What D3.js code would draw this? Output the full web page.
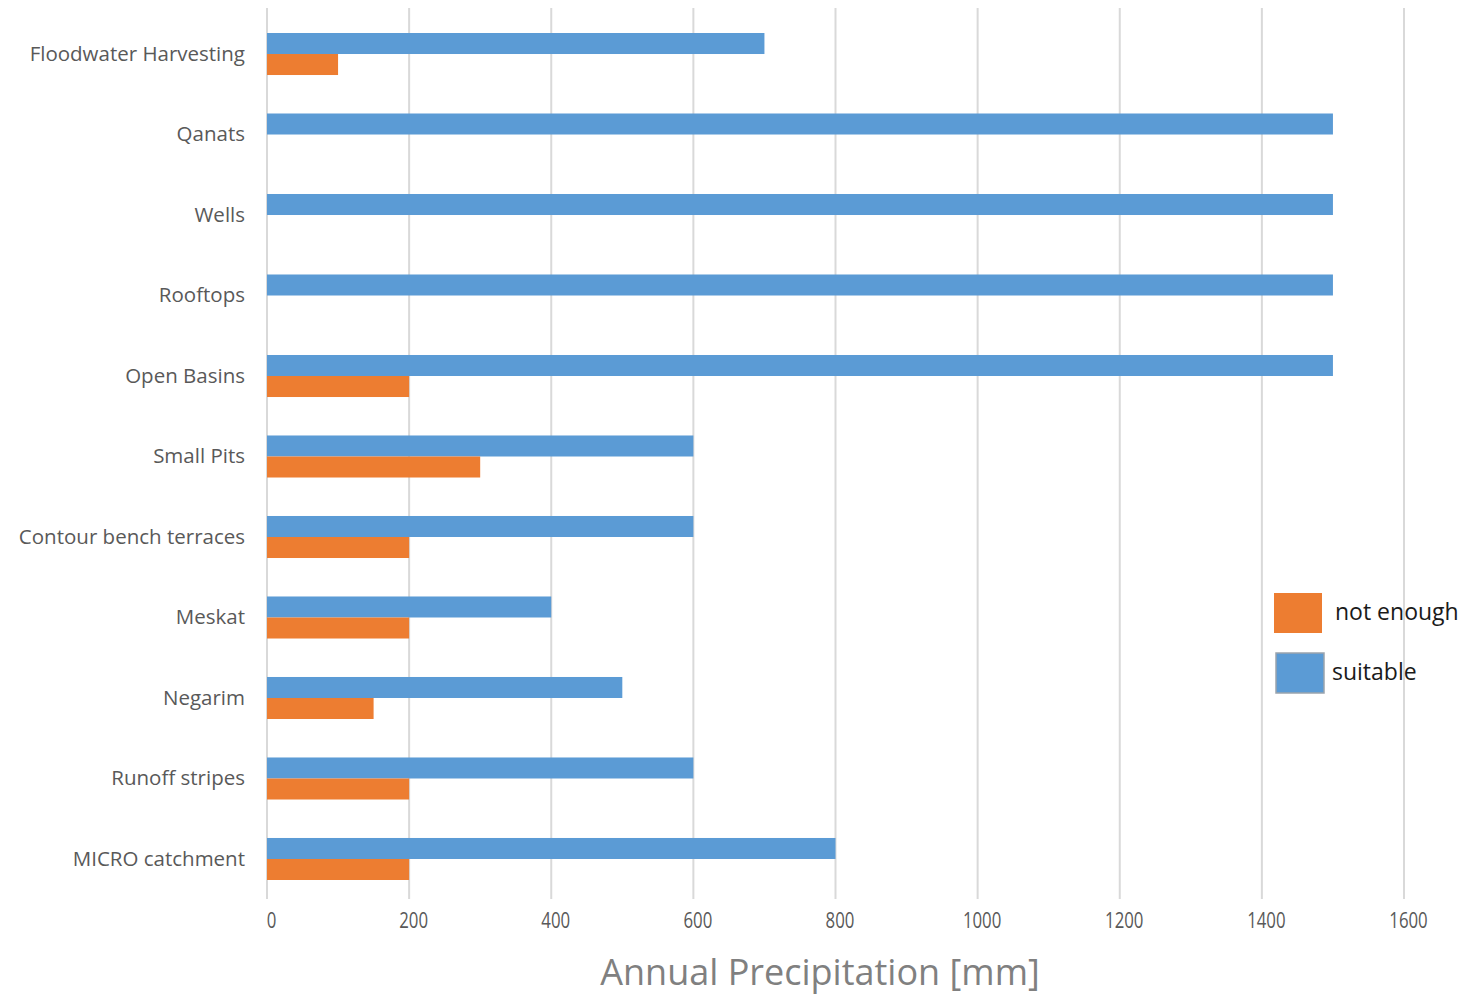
<!DOCTYPE html>
<html>
<head>
<meta charset="utf-8">
<script src="https://cdn.jsdelivr.net/npm/d3@7"></script>
<style>
  body { margin: 0; background: #fff; }
  text { font-family: "Open Sans", sans-serif; }
</style>
</head>
<body>
<div id="chart"></div>
<script>
// categories, top to bottom
var categories = ["Floodwater Harvesting", "Qanats", "Wells", "Rooftops", "Open Basins",
  "Small Pits", "Contour bench terraces", "Meskat", "Negarim", "Runoff stripes", "MICRO catchment"];
var suitable   = [700, 1500, 1500, 1500, 1500, 600, 600, 400, 500, 600, 800];
var notEnough  = [100, 0, 0, 0, 200, 300, 200, 200, 150, 200, 200];
var xTicks = [0, 200, 400, 600, 800, 1000, 1200, 1400, 1600];
var seriesNames = ["not enough", "suitable"];
var seriesColors = ["#ED7D31", "#5B9BD5"];

var width = 1467, height = 997;

var svg = d3.select("#chart").append("svg")
    .attr("width", width)
    .attr("height", height);

var x = d3.scaleLinear().domain([0, 1600]).range([267, 1404]);
var y = d3.scaleBand().domain(categories).range([33, 880]).paddingInner(0.478).paddingOuter(0);
var sub = d3.scaleBand().domain(["suitable", "not enough"]).range([0, y.bandwidth()]);

// gridlines
svg.append("g").selectAll("line")
    .data(xTicks)
    .enter()
    .append("line")
    .attr("x1", function(d) { return x(d); })
    .attr("x2", function(d) { return x(d); })
    .attr("y1", 8)
    .attr("y2", 899)
    .attr("stroke", "#d9d9d9")
    .attr("stroke-width", 2);

// bars
var rows = categories.map(function(c, i) { return { cat: c, s: suitable[i], n: notEnough[i] }; });

svg.append("g").selectAll("rect.suit")
    .data(rows)
    .enter()
    .append("rect")
    .attr("x", x(0))
    .attr("y", function(d) { return y(d.cat) + sub("suitable"); })
    .attr("width", function(d) { return x(d.s) - x(0); })
    .attr("height", sub.bandwidth())
    .attr("fill", seriesColors[1]);

svg.append("g").selectAll("rect.not")
    .data(rows.filter(function(d) { return d.n > 0; }))
    .enter()
    .append("rect")
    .attr("x", x(0))
    .attr("y", function(d) { return y(d.cat) + sub("not enough"); })
    .attr("width", function(d) { return x(d.n) - x(0); })
    .attr("height", sub.bandwidth())
    .attr("fill", seriesColors[0]);

// category labels
svg.append("g").selectAll("text")
    .data(categories)
    .enter()
    .append("text")
    .attr("x", 245)
    .attr("y", function(d) { return y(d) + y.bandwidth() / 2; })
    .attr("dy", "0.32em")
    .attr("text-anchor", "end")
    .attr("font-size", 20.5)
    .attr("fill", "#595959")
    .text(function(d) { return d; });

// x axis tick labels
var xAxis = d3.axisBottom(x).tickValues(xTicks).tickFormat(d3.format("d")).tickSize(0).tickPadding(0);
var gx = svg.append("g")
    .attr("transform", "translate(0,928)")
    .call(xAxis);
gx.select(".domain").remove();
gx.selectAll("text")
    .attr("y", 0)
    .attr("dy", 0)
    .attr("x", 5)
    .attr("font-size", 21)
    .attr("font-family", "Open Sans, sans-serif")
    .attr("fill", "#595959")
    .attr("transform", "scale(0.8,1)");

// x title
svg.append("text")
    .attr("x", 820)
    .attr("y", 985)
    .attr("text-anchor", "middle")
    .attr("font-size", 36)
    .attr("fill", "#808080")
    .text("Annual Precipitation [mm]");

// legend
var legend = svg.append("g");
var legendY = [593, 653];
legend.selectAll("rect")
    .data(seriesNames)
    .enter()
    .append("rect")
    .attr("x", function(d, i) { return i == 0 ? 1274 : 1276; })
    .attr("y", function(d, i) { return legendY[i]; })
    .attr("width", 48)
    .attr("height", 40)
    .attr("fill", function(d, i) { return seriesColors[i]; })
    .attr("stroke", function(d, i) { return i == 1 ? "#9aa4ad" : "none"; })
    .attr("stroke-width", 1.5);

legend.selectAll("text")
    .data(seriesNames)
    .enter()
    .append("text")
    .attr("x", function(d, i) { return i == 0 ? 1335 : 1332; })
    .attr("y", function(d, i) { return legendY[i] + 27; })
    .attr("font-size", 23)
    .attr("fill", "#1a1a1a")
    .text(function(d) { return d; });
</script>
</body>
</html>
